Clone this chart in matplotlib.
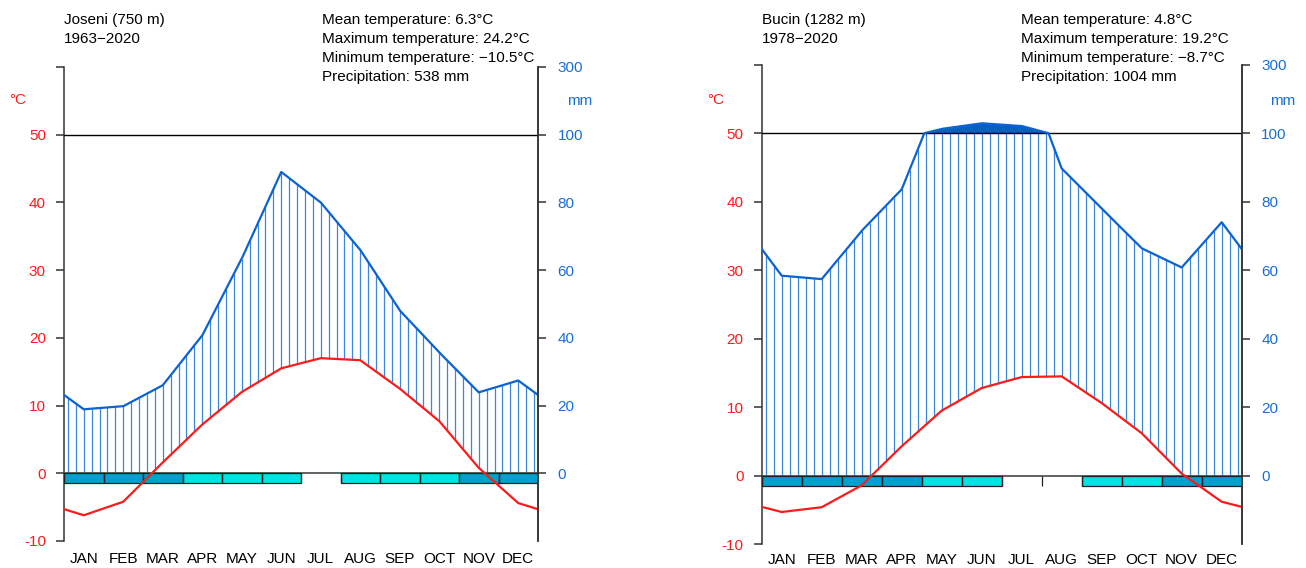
import numpy as np
import matplotlib
matplotlib.use("Agg")
import matplotlib.pyplot as plt
from matplotlib.patches import Rectangle

plt.rcParams["font.family"] = ["Liberation Sans", "DejaVu Sans"]

months = ["JAN", "FEB", "MAR", "APR", "MAY", "JUN", "JUL", "AUG", "SEP", "OCT", "NOV", "DEC"]

# Joseni
joseni_name = "Joseni (750 m)"
joseni_period = "1963\u22122020"
joseni_temp = [-6.2, -4.2, 1.6, 7.2, 12.0, 15.5, 17.0, 16.7, 12.5, 7.7, 0.8, -4.4]
joseni_prec = [18.9, 19.8, 26.0, 40.7, 63.4, 89.0, 80.0, 66.0, 48.1, 35.7, 23.9, 27.4]
joseni_frost = [2, 2, 2, 1, 1, 1, 0, 1, 1, 1, 2, 2]   # 2 sure frost, 1 probable frost
joseni_stats = ["Mean temperature: 6.3\u00b0C", "Maximum temperature: 24.2\u00b0C",
                "Minimum temperature: \u221210.5\u00b0C", "Precipitation: 538 mm"]

# Bucin
bucin_name = "Bucin (1282 m)"
bucin_period = "1978\u22122020"
bucin_temp = [-5.3, -4.6, -1.4, 4.3, 9.5, 12.8, 14.4, 14.5, 10.6, 6.2, 0.3, -3.8]
bucin_prec = [58.4, 57.4, 71.5, 83.6, 112.6, 129.0, 121.0, 89.7, 78.0, 66.4, 60.8, 74.0]
bucin_frost = [2, 2, 2, 2, 1, 1, 0, 0, 1, 1, 2, 2]
bucin_stats = ["Mean temperature: 4.8\u00b0C", "Maximum temperature: 19.2\u00b0C",
               "Minimum temperature: \u22128.7\u00b0C", "Precipitation: 1004 mm"]

RED = "#ff1a1a"
BLUE = "#0b63d1"
HATCH = "#3a88de"
DOME = "#0a5cc9"
MMCOL = "#1a6fd6"
FROST = {2: "#00a0cf", 1: "#00e3e3"}
FS = 11


def compress(p):
    p = np.asarray(p, dtype=float)
    return np.where(p <= 100, p / 2, 50 + (p - 100) / 20)


def walter(fig, rect, temp, prec, frost, xpad):
    ax = fig.add_axes(rect)
    x = np.arange(1, 13)
    xe = np.concatenate([[0.5], x, [12.5]])
    te = np.concatenate([[(temp[0] + temp[-1]) / 2], temp, [(temp[0] + temp[-1]) / 2]])
    pe = np.concatenate([[(prec[0] + prec[-1]) / 2], prec, [(prec[0] + prec[-1]) / 2]])

    xf = np.linspace(0.5, 12.5, 2401)
    pf = compress(np.interp(xf, xe, pe))

    # humid hatch
    xh = np.arange(0.6, 12.41, 0.2)
    ph = np.minimum(compress(np.interp(xh, xe, pe)), 50)
    th = np.maximum(np.interp(xh, xe, te), 0)
    ok = ph > th
    ax.vlines(xh[ok], th[ok], ph[ok], color=HATCH, lw=0.9, zorder=2)

    # precipitation above 100 mm
    ax.fill_between(xf, 50, pf, where=pf > 50, color=DOME, lw=0, zorder=3)

    ax.axhline(50, color="black", lw=1.0, zorder=4)
    ax.axhline(0, color="#555555", lw=1.3, zorder=4)

    for i, f in enumerate(frost):
        if f:
            ax.add_patch(Rectangle((i + 0.5, -1.5), 1, 1.5, facecolor=FROST[f],
                                   edgecolor="#222222", lw=0.9, zorder=5))
    ax.vlines(np.arange(0.5, 13), -1.5, 0, color="#222222", lw=0.9, zorder=5)

    ax.plot(xf, pf, color=BLUE, lw=1.6, zorder=6)
    ax.plot(xe, te, color=RED, lw=1.6, zorder=7)

    ax.set_xlim(0.5, 12.5)
    ax.set_ylim(-10, 60)
    for s in ["top", "bottom"]:
        ax.spines[s].set_visible(False)
    for s in ["left", "right"]:
        ax.spines[s].set_color("#333333")
        ax.spines[s].set_linewidth(1.1)

    ax.set_xticks(x)
    ax.set_xticklabels(months, fontsize=FS)
    ax.tick_params(axis="x", length=0, pad=xpad)

    ax.set_yticks(range(-10, 61, 10))
    ax.set_yticklabels([str(v) if v < 60 else "" for v in range(-10, 61, 10)])
    ax.tick_params(axis="y", colors="#333333", labelcolor=RED, labelsize=FS,
                   length=6, width=1.1, pad=7)

    ax2 = ax.twinx()
    ax2.set_ylim(-10, 60)
    ax2.set_yticks(range(0, 61, 10))
    ax2.set_yticklabels(["0", "20", "40", "60", "80", "100", "300"])
    ax2.tick_params(axis="y", colors="#333333", labelcolor=MMCOL, labelsize=FS,
                    length=6, width=1.1, pad=8)
    for s in ["top", "bottom", "left"]:
        ax2.spines[s].set_visible(False)
    ax2.spines["right"].set_color("#333333")
    ax2.spines["right"].set_linewidth(1.1)
    return ax


fig = plt.figure(figsize=(13.06, 5.68), dpi=100)
W, H = 1306.0, 568.0

walter(fig, [64 / W, 1 - 541 / H, 474 / W, 474 / H], joseni_temp, joseni_prec, joseni_frost, 8)
walter(fig, [761.7 / W, 1 - 544.2 / H, 480 / W, 479.5 / H], bucin_temp, bucin_prec, bucin_frost, 6)

line_y = [20, 39, 58, 77]
for x0, name, period, stats, cx, mx in [
        (64, joseni_name, joseni_period, joseni_stats, 322, 580),
        (762, bucin_name, bucin_period, bucin_stats, 1021, 1283)]:
    fig.text(x0 / W, 1 - line_y[0] / H, name, fontsize=FS, va="center", ha="left")
    fig.text(x0 / W, 1 - line_y[1] / H, period, fontsize=FS, va="center", ha="left")
    for k, s in enumerate(stats):
        fig.text(cx / W, 1 - line_y[k] / H, s, fontsize=FS, va="center", ha="left")
    fig.text((x0 - 46) / W, 1 - 100 / H, "\u00b0C", fontsize=FS, color=RED, va="center", ha="center")
    fig.text(mx / W, 1 - 101 / H, "mm", fontsize=FS, color=MMCOL, va="center", ha="center")

fig.savefig("out.png", dpi=100)
